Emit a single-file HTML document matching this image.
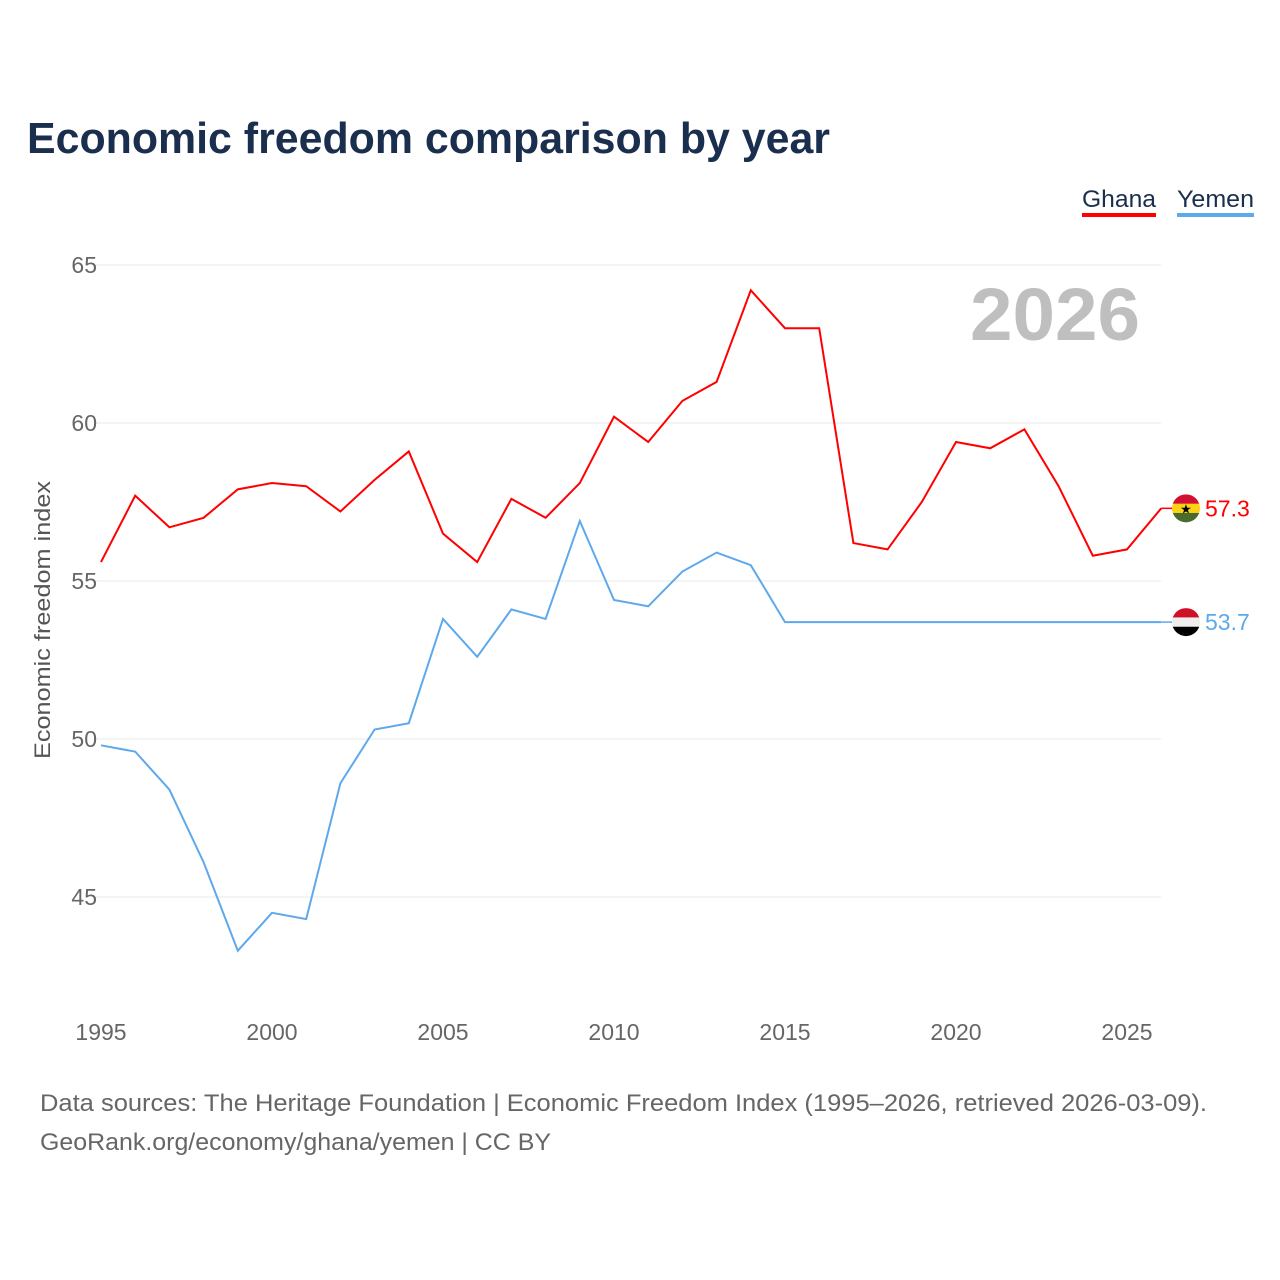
<!DOCTYPE html>
<html><head><meta charset="utf-8"><style>
body{margin:0;background:#fff;font-family:"Liberation Sans",sans-serif}
#wrap{position:relative;width:1280px;height:1280px}
</style></head><body>
<div id="wrap">
<svg id="chart" width="1280" height="1280" style="position:absolute;left:0;top:0">
<text x="27" y="153" font-size="44" font-weight="bold" fill="#1a2e4e" textLength="803" lengthAdjust="spacingAndGlyphs">Economic freedom comparison by year</text>
<g><text x="1082" y="207" font-size="24" fill="#1a2e4e" textLength="74" lengthAdjust="spacingAndGlyphs">Ghana</text><rect x="1082" y="213" width="74" height="4" fill="#ff0000"/></g>
<g><text x="1177" y="207" font-size="24" fill="#1a2e4e" textLength="77" lengthAdjust="spacingAndGlyphs">Yemen</text><rect x="1177" y="213" width="77" height="4" fill="#5ea8ec"/></g>
<text x="1140" y="340" font-size="74" font-weight="bold" fill="#bfbfbf" text-anchor="end" textLength="170" lengthAdjust="spacingAndGlyphs">2026</text>
<g id="grid"></g><g id="lines"></g>
<text transform="translate(50,620) rotate(-90)" font-size="22" fill="#555" text-anchor="middle" textLength="278" lengthAdjust="spacingAndGlyphs">Economic freedom index</text>
<text x="40" y="1111" font-size="24" fill="#666" textLength="1167" lengthAdjust="spacingAndGlyphs">Data sources: The Heritage Foundation | Economic Freedom Index (1995–2026, retrieved 2026-03-09).</text>
<text x="40" y="1150" font-size="24" fill="#666" textLength="511" lengthAdjust="spacingAndGlyphs">GeoRank.org/economy/ghana/yemen | CC BY</text>
</svg></div>
<script>
const years=[1995,1996,1997,1998,1999,2000,2001,2002,2003,2004,2005,2006,2007,2008,2009,2010,2011,2012,2013,2014,2015,2016,2017,2018,2019,2020,2021,2022,2023,2024,2025,2026];
const ghana=[55.6,57.7,56.7,57.0,57.9,58.1,58.0,57.2,58.2,59.1,56.5,55.6,57.6,57.0,58.1,60.2,59.4,60.7,61.3,64.2,63.0,63.0,56.2,56.0,57.5,59.4,59.2,59.8,58.0,55.8,56.0,57.3];
const yemen=[49.8,49.6,48.4,46.1,43.3,44.5,44.3,48.6,50.3,50.5,53.8,52.6,54.1,53.8,56.9,54.4,54.2,55.3,55.9,55.5,53.7,53.7,53.7,53.7,53.7,53.7,53.7,53.7,53.7,53.7,53.7,53.7];
const yTicks=[45,50,55,60,65];
const xTicks=[1995,2000,2005,2010,2015,2020,2025];
const NS="http://www.w3.org/2000/svg";
const x=v=>101+(v-1995)*34.2;
const y=v=>265+(65-v)*31.6;
const grid=document.getElementById('grid'),lines=document.getElementById('lines');
function mk(tag,attrs,parent,txt){const e=document.createElementNS(NS,tag);for(const k in attrs)e.setAttribute(k,attrs[k]);if(txt!==undefined)e.textContent=txt;parent.appendChild(e);return e;}
yTicks.forEach(t=>{
 const l=mk('line',{x1:95,x2:1161,y1:y(t),y2:y(t),stroke:'#e8e8e8','stroke-width':1},grid);
 
 
 const tx=mk('text',{x:97,y:y(t)+8,'font-size':23,fill:'#666','text-anchor':'end'},grid,String(t));
 
 
});
xTicks.forEach(t=>{
 const tx=mk('text',{x:x(t),y:1040,'font-size':23,fill:'#666','text-anchor':'middle'},grid,String(t));
 
 
});
function series(vals,color,name,flag){
 const p=mk('path',{d:vals.map((v,i)=>(i?'L':'M')+x(years[i])+','+y(v)).join(''),fill:'none',stroke:color,'stroke-width':2},lines);
 
 
 const last=vals[vals.length-1],ly=y(last),lx=x(years[years.length-1]);
 mk('line',{x1:lx,x2:1175,y1:ly,y2:ly,stroke:color,'stroke-width':1.5},lines);
 const g=mk('g',{},lines);
 
 
 const id='c'+name;
 const cp=mk('clipPath',{id:id},g);mk('circle',{cx:1186,cy:ly,r:14},cp);
 const gg=mk('g',{'clip-path':'url(#'+id+')'},g);
 flag.forEach((c,i)=>mk('rect',{x:1172,y:ly-14+i*28/3,width:28,height:28/3+0.5,fill:c},gg));
 if(name==='ghana')mk('text',{x:1186,y:ly+5,'font-size':13,'text-anchor':'middle',fill:'#000'},g,'★');
 const t=mk('text',{x:1205,y:ly+8,'font-size':23,fill:color},lines,last.toFixed(1));
 
 
}
series(ghana,'#ff0000','ghana',['#d21034','#fcd116','#4a6b2c']);
series(yemen,'#5ea8ec','yemen',['#ce1126','#eeeeee','#000000']);
</script>
</body></html>
